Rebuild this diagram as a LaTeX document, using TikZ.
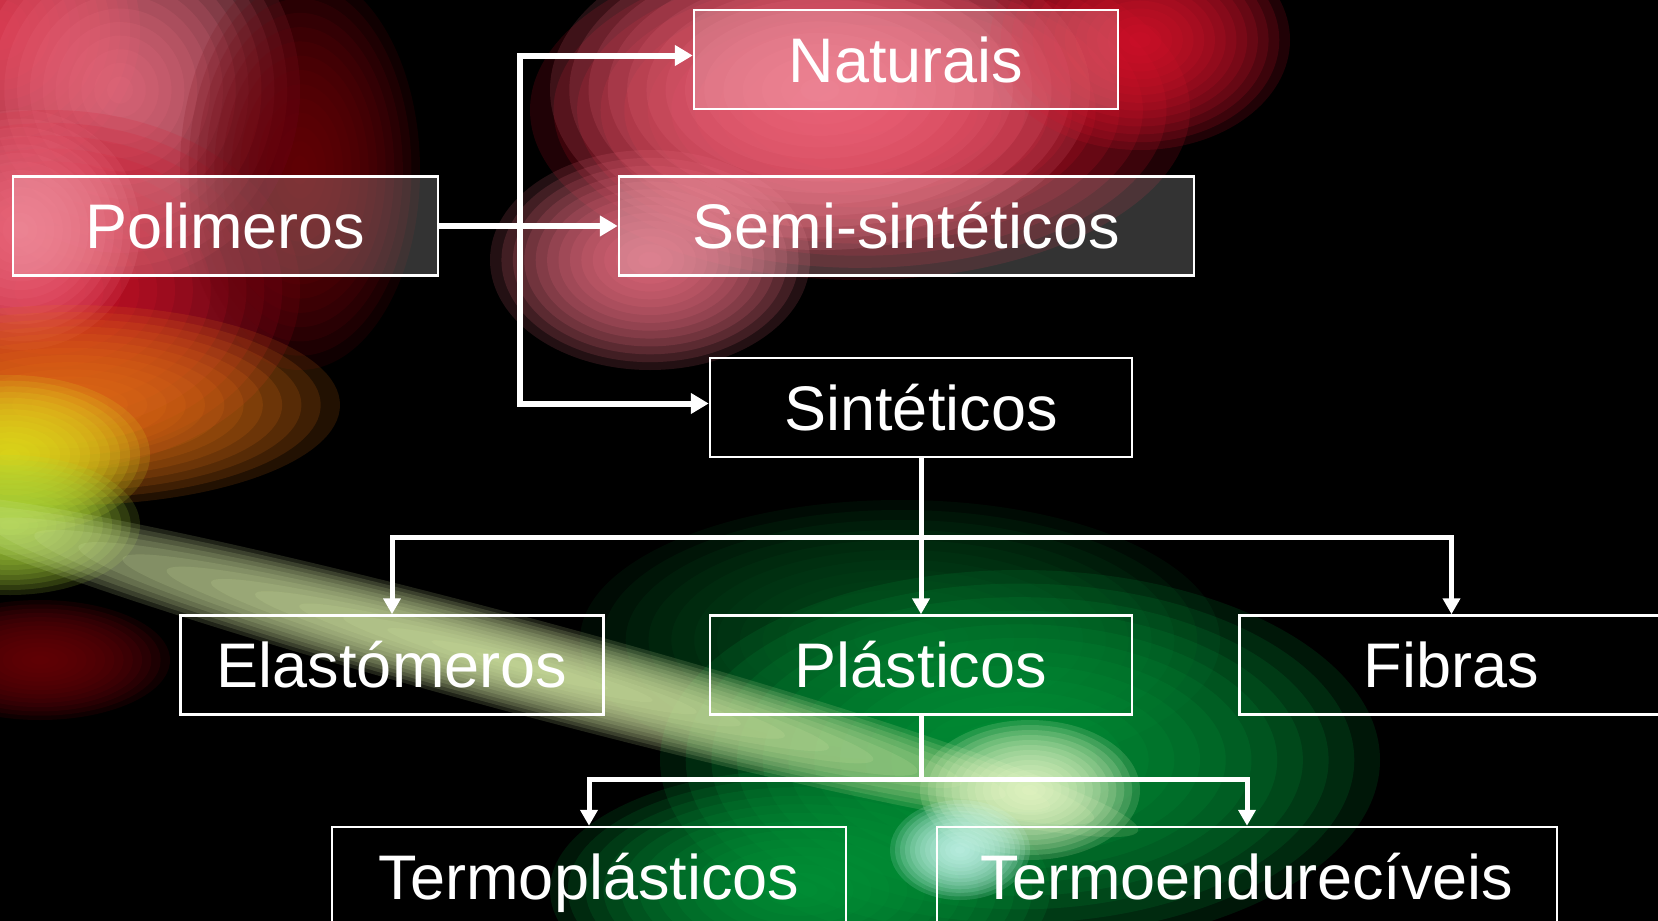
\documentclass[tikz,border=0pt]{standalone}
\usepackage{fontspec}
\setmainfont{Liberation Sans}
\usepackage{xcolor}
\definecolor{bgpink}{RGB}{240,112,132}
\definecolor{bgred}{RGB}{220,20,45}
\definecolor{bgdarkred}{RGB}{110,0,10}
\definecolor{bgorange}{RGB}{230,115,20}
\definecolor{bgyellow}{RGB}{225,228,30}
\definecolor{bglime}{RGB}{175,220,60}
\definecolor{bgstreak}{RGB}{215,235,165}
\definecolor{bggreen}{RGB}{0,155,60}
\definecolor{bgdeepgreen}{RGB}{0,80,30}
\definecolor{bgglow}{RGB}{240,252,205}
\definecolor{bgcyan}{RGB}{205,250,242}
\usetikzlibrary{arrows.meta, positioning}

% soft glow: stacked see-through ellipses {colour}{x}{y}{x radius}{y radius}
\newcommand{\glowblob}[5]{%
  \foreach \k in {1,...,14}
    \fill[#1, fill opacity=0.15] (#2,#3) ellipse [x radius={#4*\k/14}, y radius={#5*\k/14}];}

\begin{document}
\begin{tikzpicture}[x=1pt, y=-1pt,
  box/.style={draw=white, line width=2.5pt, text=white, inner sep=0pt,
              minimum height=99pt, text height=45pt, text depth=0pt,
              font=\fontsize{63}{70}\selectfont},
  glassbox/.style={box, fill=white, fill opacity=0.2, text opacity=1},
  link/.style={draw=white, line width=6pt, -{Triangle[length=18pt, width=20pt]}},
  drop/.style={draw=white, line width=5pt, -{Triangle[length=16pt, width=17pt]}}]

\useasboundingbox (0,0) rectangle (1658,921);
\clip (0,0) rectangle (1658,921);
\fill[black] (0,0) rectangle (1658,921);

% --- Blurred background ---
% red band on the left
\glowblob{bgred}{0}{30}{140}{140}
\glowblob{bgpink}{120}{90}{180}{190}
\glowblob{bgred}{50}{290}{250}{180}
\glowblob{bgpink}{20}{230}{120}{120}
\glowblob{bgdarkred}{300}{170}{120}{200}

% orange and yellow glow
\glowblob{bgorange}{70}{405}{270}{100}
\glowblob{bgyellow}{10}{455}{140}{80}
\glowblob{bglime}{10}{525}{130}{70}
\glowblob{bgdarkred}{40}{660}{130}{60}

% pink glow around the top boxes
\glowblob{bgred}{860}{110}{330}{170}
\glowblob{bgpink}{820}{90}{270}{160}
\glowblob{bgpink}{650}{260}{160}{110}
\glowblob{bgred}{1140}{40}{150}{110}

% green glow at the bottom
\glowblob{bgdeepgreen}{900}{640}{320}{140}
\glowblob{bggreen}{1020}{760}{360}{190}
\glowblob{bggreen}{800}{890}{250}{120}

% light streak
\begin{scope}[rotate around={-15:(520,665)}]
  \glowblob{bgstreak}{520}{665}{640}{48}
\end{scope}
\glowblob{bgglow}{1030}{790}{110}{70}
\glowblob{bgcyan}{960}{850}{70}{50}

% --- Boxes ---
\node[glassbox, minimum width=425pt] (polim) at (225.5,226) {Polimeros};
\node[glassbox, minimum width=424pt] (natur) at (906,59.5) {Naturais};
\node[glassbox, minimum width=575pt] (semi) at (906.5,226) {Semi-sintéticos};
\node[box, minimum width=422pt] (sint) at (921,407.5) {Sintéticos};

\node[box, minimum width=422pt, below=156pt of sint] (plast) {Plásticos};
\node[box, minimum width=423pt, left=104pt of plast] (elast) {Elastómeros};
\node[box, minimum width=424pt, right=105pt of plast] (fibras) {Fibras};

\node[box, minimum width=514pt] (termo) at (589,876.5) {Termoplásticos};
\node[box, minimum width=620pt] (termoend) at (1247,876.5) {Termoendurecíveis};

% --- Connectors ---
\coordinate (fork) at ([xshift=81pt]polim.east);
\draw[link] (polim.east) -- (semi.west);
\draw[link] (fork) |- ([yshift=4pt]natur.west);
\draw[link] (fork) |- ([yshift=4pt]sint.west);

\coordinate (split) at ([yshift=-79pt]sint.south);
\draw[drop] (sint.south) -- (plast.north);
\draw[drop] (split) -| (elast.north);
\draw[drop] (split) -| (fibras.north);

\coordinate (split2) at ([yshift=-64pt]plast.south);
\draw[white, line width=5pt] (plast.south) -- (split2);
\draw[drop] (split2) -| (termo.north);
\draw[drop] (split2) -| (termoend.north);

\end{tikzpicture}
\end{document}
